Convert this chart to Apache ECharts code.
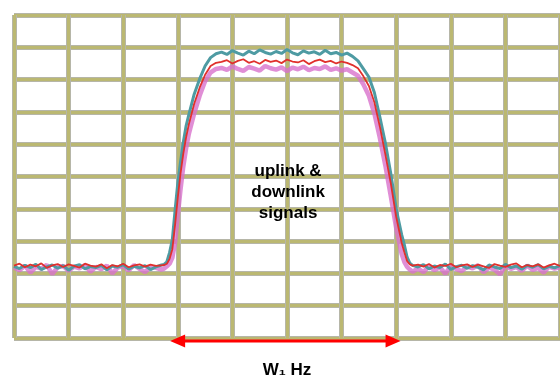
<!DOCTYPE html>
<html>
<head>
<meta charset="utf-8">
<script src="https://cdn.jsdelivr.net/npm/echarts@6/dist/echarts.min.js"></script>
<style>html,body{margin:0;padding:0;background:#fff;}#c{width:560px;height:377px;}</style>
</head>
<body>
<div id="c"></div>
<script>
// frequency positions in grid divisions
var freq = [0.0,0.1,0.2,0.3,0.4,0.5,0.6,0.7,0.8,0.9,1.0,1.1,1.2,1.3,1.4,1.5,1.6,1.7,1.8,1.9,2.0,2.1,2.2,2.3,2.4,2.5,2.6,2.7,
  2.75,2.8,2.85,2.9,2.95,3.0,3.05,3.1,3.15,3.2,3.3,3.4,3.5,3.6,3.7,
  3.8,3.9,4.0,4.1,4.2,4.3,4.4,4.5,4.6,4.7,4.8,4.9,5.0,5.1,5.2,5.3,5.4,5.5,5.6,5.7,5.8,5.9,6.0,6.1,6.2,
  6.3,6.4,6.5,6.6,6.7,6.8,6.9,7.0,7.05,7.1,7.15,7.2,7.25,7.3,
  7.4,7.5,7.6,7.7,7.8,7.9,8.0,8.1,8.2,8.3,8.4,8.5,8.6,8.7,8.8,8.9,9.0,9.1,9.2,9.3,9.4,9.5,9.6,9.7,9.8,9.9,10.0];
// power level in grid divisions
var tealTrace = [2.22,2.15,2.25,2.18,2.28,2.12,2.20,2.26,2.16,2.24,2.10,2.22,2.27,2.14,2.21,2.18,2.25,2.11,2.23,2.19,2.27,2.13,2.22,2.17,2.24,2.12,2.20,2.26,
  2.28,2.36,2.65,3.05,3.95,4.8,5.45,6.05,6.55,6.9,7.55,8.02,8.42,8.68,8.80,
  8.85,8.78,8.90,8.82,8.76,8.88,8.80,8.92,8.84,8.79,8.87,8.81,8.93,8.83,8.77,8.89,8.82,8.86,8.78,8.91,8.80,8.84,8.76,8.82,8.72,
  8.58,8.33,8.08,7.6,6.85,6.05,5.1,4.0,3.6,3.2,2.88,2.5,2.32,2.25,
  2.20,2.27,2.14,2.23,2.18,2.29,2.12,2.21,2.25,2.16,2.24,2.19,2.11,2.26,2.20,2.15,2.28,2.18,2.23,2.13,2.25,2.19,2.27,2.14,2.22,2.17,2.24];
var redTrace = [2.24,2.30,2.19,2.27,2.22,2.31,2.17,2.25,2.29,2.20,2.28,2.23,2.18,2.30,2.24,2.21,2.28,2.16,2.26,2.22,2.30,2.19,2.25,2.28,2.21,2.27,2.23,2.25,
  2.26,2.30,2.45,2.75,3.5,4.35,5.1,5.7,6.2,6.6,7.25,7.75,8.15,8.42,8.52,
  8.55,8.60,8.50,8.58,8.63,8.52,8.57,8.49,8.61,8.55,8.59,8.51,8.62,8.56,8.53,8.60,8.48,8.57,8.62,8.54,8.58,8.50,8.56,8.52,8.45,
  8.35,8.1,7.8,7.3,6.55,5.7,4.8,3.75,3.35,2.95,2.65,2.38,2.28,2.24,
  2.27,2.21,2.29,2.18,2.26,2.23,2.30,2.19,2.25,2.28,2.20,2.27,2.22,2.17,2.29,2.24,2.20,2.27,2.31,2.19,2.26,2.22,2.28,2.18,2.25,2.30,2.23];
var magentaTrace = [2.18,2.10,2.24,2.02,2.20,2.15,2.26,1.98,2.19,2.23,2.08,2.21,2.16,2.25,2.05,2.20,2.13,2.24,2.00,2.18,2.22,2.09,2.26,2.14,2.04,2.21,2.17,2.12,
  2.15,2.22,2.30,2.48,2.95,3.8,4.6,5.3,5.85,6.3,6.95,7.5,7.95,8.22,8.33,
  8.36,8.30,8.41,8.33,8.27,8.39,8.34,8.28,8.42,8.35,8.31,8.38,8.26,8.37,8.32,8.40,8.29,8.36,8.33,8.41,8.30,8.35,8.28,8.32,8.22,
  8.12,7.85,7.5,6.95,6.2,5.35,4.4,3.4,3.0,2.6,2.35,2.2,2.12,2.05,
  2.15,2.04,2.22,2.10,2.19,1.99,2.24,2.13,2.07,2.21,2.16,2.25,2.03,2.18,2.12,1.97,2.23,2.14,2.20,2.08,2.24,2.11,2.17,2.02,2.21,2.15,2.19];
// bandwidth marker (grid divisions, arrow tips) and labels
var bandStart = 2.86, bandEnd = 7.08, bandLevel = -0.09;
var labelCenter = [5.02, 4.5];
var labelBottom = [5.0, -1.0];
var centerLabel = 'uplink &\ndownlink\nsignals';
var bandLabel = 'W\u2081 Hz';

function pairs(ys){ var out=[]; for (var i=0;i<freq.length;i++) out.push([freq[i], ys[i]]); return out; }

var chart = echarts.init(document.getElementById('c'), null, {renderer:'canvas'});
var gridBox = {left:14, top:15, width:555, height:323};
function axis(idx, color, w){
  return {type:'value', gridIndex:idx, min:0, max:10, interval:1,
    axisLine:{show:false}, axisTick:{show:false}, axisLabel:{show:false},
    splitLine:{show:true, lineStyle:{color:color, width:w}}};
}
chart.setOption({
  animation:false,
  backgroundColor:'#ffffff',
  grid:[Object.assign({}, gridBox), Object.assign({}, gridBox)],
  xAxis:[axis(0,'#b6b6a8',5), axis(1,'#bbb872',3)],
  yAxis:[axis(0,'#b6b6a8',5), axis(1,'#bbb872',3)],
  series:[
    {type:'line', xAxisIndex:1, yAxisIndex:1, data:pairs(magentaTrace), showSymbol:false, symbol:'none',
      lineStyle:{color:'#d872cc', width:4.5, opacity:0.8}, z:3},
    {type:'line', xAxisIndex:1, yAxisIndex:1, data:pairs(tealTrace), showSymbol:false, symbol:'none',
      lineStyle:{color:'#4e9ba3', width:3}, z:4},
    {type:'line', xAxisIndex:1, yAxisIndex:1, data:pairs(redTrace), showSymbol:false, symbol:'none',
      lineStyle:{color:'#e0302c', width:1.8}, z:5}
  ]
});

var p0 = chart.convertToPixel({xAxisIndex:1, yAxisIndex:1}, [bandStart, bandLevel]);
var p1 = chart.convertToPixel({xAxisIndex:1, yAxisIndex:1}, [bandEnd, bandLevel]);
var pc = chart.convertToPixel({xAxisIndex:1, yAxisIndex:1}, labelCenter);
var pb = chart.convertToPixel({xAxisIndex:1, yAxisIndex:1}, labelBottom);
var headL = 15, headH = 6.5;
chart.setOption({
  graphic:[
    {type:'line', z:100, shape:{x1:p0[0]+headL-2, y1:p0[1], x2:p1[0]-headL+2, y2:p1[1]},
      style:{stroke:'#ff0000', lineWidth:3}},
    {type:'polygon', z:100, shape:{points:[[p0[0],p0[1]],[p0[0]+headL,p0[1]-headH],[p0[0]+headL,p0[1]+headH]]},
      style:{fill:'#ff0000'}},
    {type:'polygon', z:100, shape:{points:[[p1[0],p1[1]],[p1[0]-headL,p1[1]-headH],[p1[0]-headL,p1[1]+headH]]},
      style:{fill:'#ff0000'}},
    {type:'text', x:pc[0], y:pc[1], z:100, style:{text:centerLabel, align:'center', verticalAlign:'middle',
      font:'bold 17px "Liberation Sans", Arial, sans-serif', lineHeight:21, fill:'#000'}},
    {type:'text', x:pb[0], y:pb[1], z:100, style:{text:bandLabel, align:'center', verticalAlign:'middle',
      font:'bold 17px "Liberation Sans", Arial, sans-serif', fill:'#000'}}
  ]
});
</script>
</body>
</html>
